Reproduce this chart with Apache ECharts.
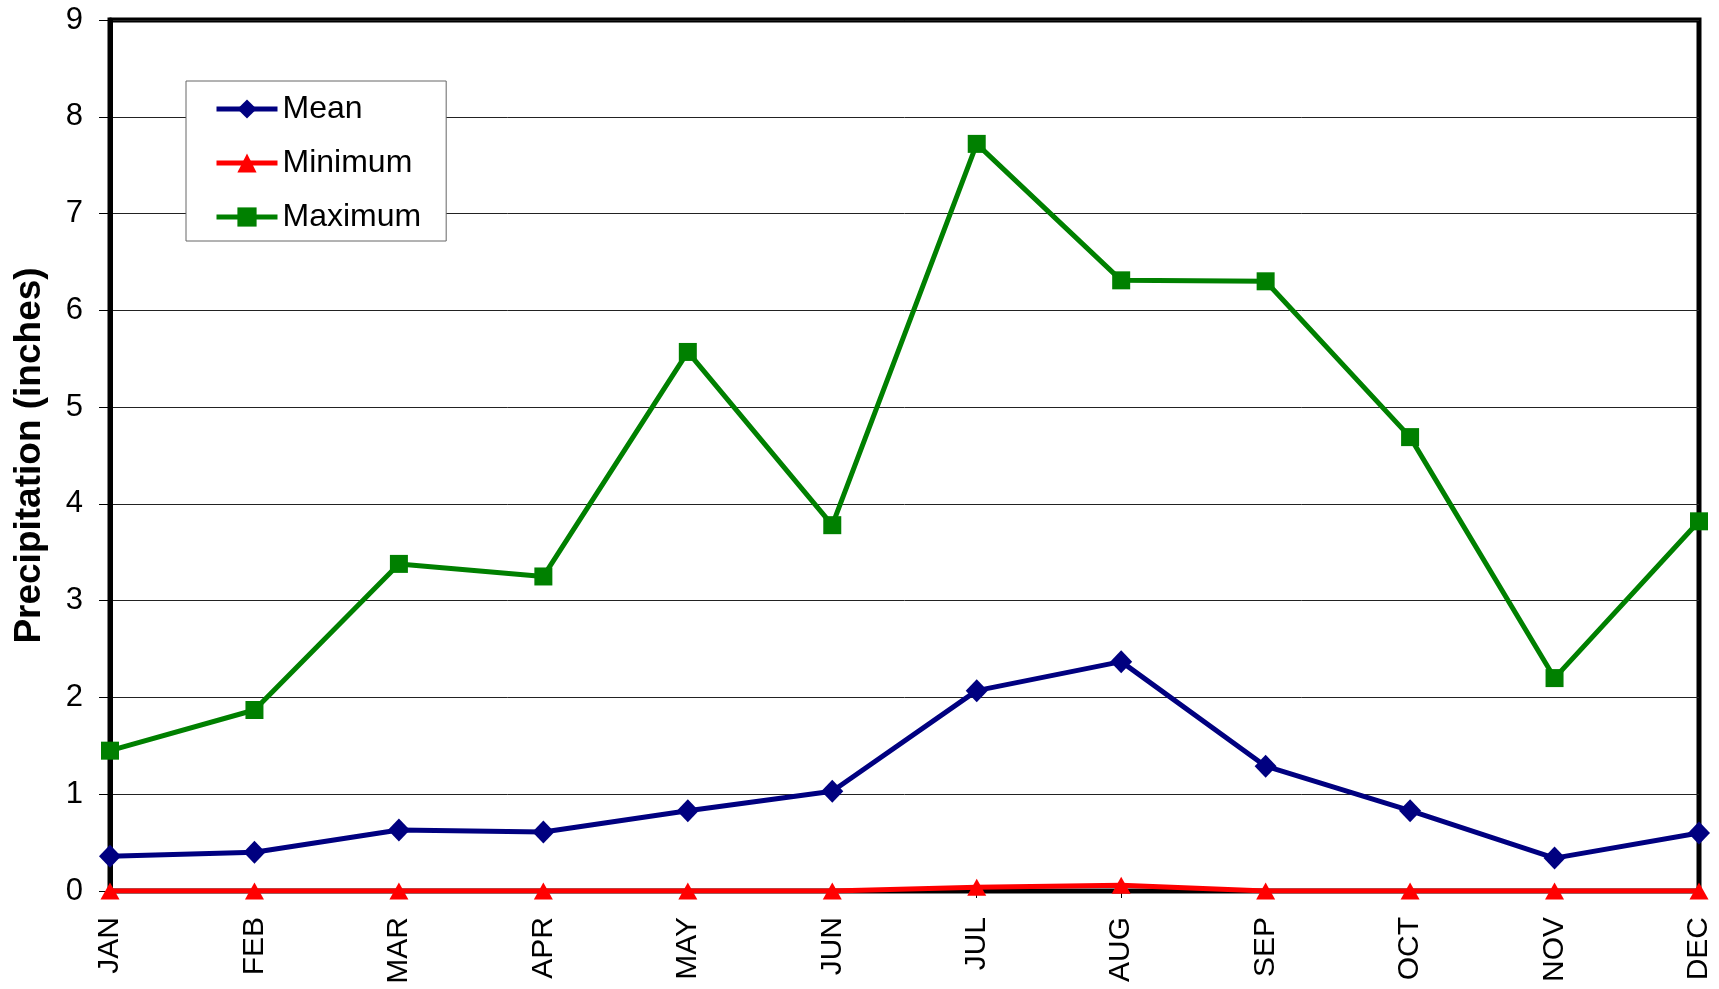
<!DOCTYPE html>
<html>
<head>
<meta charset="utf-8">
<script src="https://cdn.jsdelivr.net/npm/echarts@6/dist/echarts.min.js"></script>
<style>
  html, body { margin: 0; padding: 0; background: #fff; }
  #chart { width: 1719px; height: 989px; }
</style>
</head>
<body>
<div id="chart"></div>
<script>
const months = ['JAN', 'FEB', 'MAR', 'APR', 'MAY', 'JUN', 'JUL', 'AUG', 'SEP', 'OCT', 'NOV', 'DEC']
const meanValues = [0.36, 0.40, 0.63, 0.61, 0.83, 1.03, 2.07, 2.37, 1.29, 0.83, 0.34, 0.60]
const minValues = [0, 0, 0, 0, 0, 0, 0.04, 0.06, 0, 0, 0, 0]
const maxValues = [1.45, 1.87, 3.38, 3.25, 5.57, 3.78, 7.72, 6.31, 6.30, 4.69, 2.20, 3.82]

const font = '"Liberation Sans", Arial, sans-serif'

const chart = echarts.init(document.getElementById('chart'))

chart.setOption({
  backgroundColor: '#fff',
  animation: false,
  grid: {
    left: 110, right: 20, top: 20, bottom: 98,
    show: true,
    borderColor: '#000',
    borderWidth: 5,
  },
  legend: {
    orient: 'vertical',
    left: 186,
    top: 81,
    padding: [12, 25, 8, 28],
    itemWidth: 61,
    itemHeight: 24,
    itemGap: 22,
    backgroundColor: '#fff',
    borderColor: '#666',
    borderWidth: 1,
    lineStyle: { width: 5 },
    textStyle: { fontFamily: font, fontSize: 32, color: '#000' },
    data: ['Mean', 'Minimum', 'Maximum'],
  },
  xAxis: {
    type: 'category',
    data: months,
    boundaryGap: false,
    axisLine: { lineStyle: { color: '#000', width: 3 } },
    axisTick: { show: true, alignWithLabel: true, length: 7, lineStyle: { color: '#000', width: 1 } },
    axisLabel: { rotate: 90, margin: 26, fontFamily: font, fontSize: 30, color: '#000' },
    splitLine: { show: false },
  },
  yAxis: {
    type: 'value',
    min: 0,
    max: 9,
    interval: 1,
    name: 'Precipitation (inches)',
    nameLocation: 'middle',
    nameGap: 62,
    nameRotate: 90,
    nameTextStyle: { fontFamily: font, fontSize: 37, fontWeight: 'bold', color: '#000' },
    axisLine: { show: true, lineStyle: { color: '#000', width: 5 } },
    axisTick: { show: true, length: 11, lineStyle: { color: '#000', width: 1 } },
    axisLabel: { margin: 27, fontFamily: font, fontSize: 31, color: '#000' },
    splitLine: { show: true, lineStyle: { color: '#222', width: 1 } },
  },
  series: [
    {
      name: 'Mean',
      type: 'line',
      data: meanValues,
      symbol: 'diamond',
      symbolSize: [22, 23],
      color: '#000080',
      lineStyle: { color: '#000080', width: 5 },
      itemStyle: { color: '#000080' },
      z: 4,
    },
    {
      name: 'Minimum',
      type: 'line',
      data: minValues,
      symbol: 'triangle',
      symbolSize: [19, 17],
      color: '#ff0000',
      lineStyle: { color: '#ff0000', width: 5 },
      itemStyle: { color: '#ff0000' },
      z: 3,
    },
    {
      name: 'Maximum',
      type: 'line',
      data: maxValues,
      symbol: 'rect',
      symbolSize: 18,
      color: '#008000',
      lineStyle: { color: '#008000', width: 5 },
      itemStyle: { color: '#008000' },
      z: 4,
    },
  ],
})
</script>
</body>
</html>
